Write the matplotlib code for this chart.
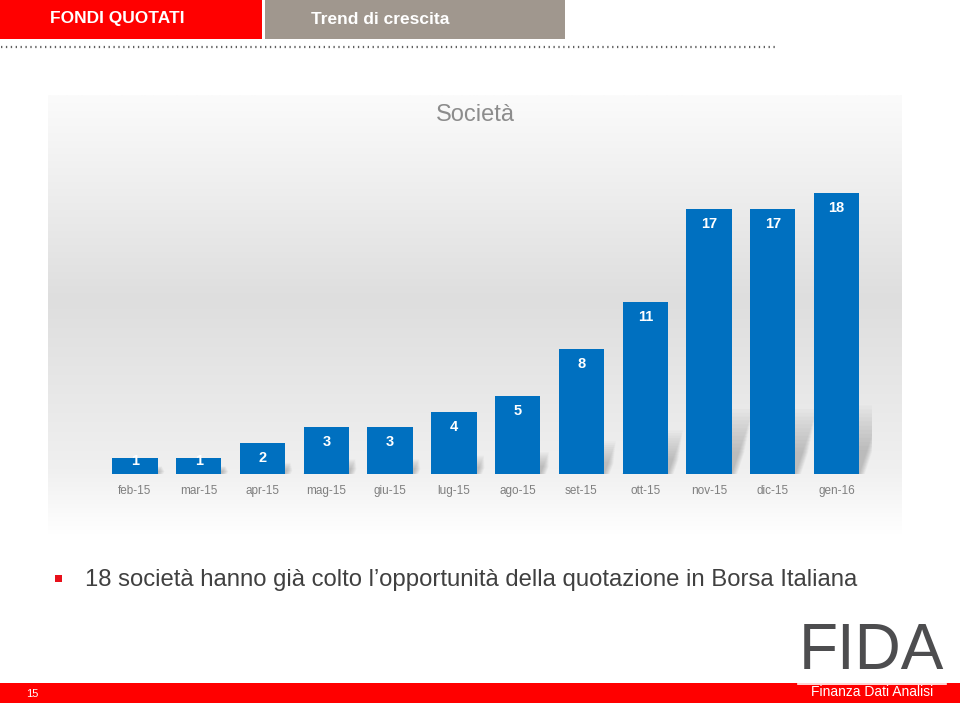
import matplotlib
matplotlib.use("Agg")
import matplotlib.pyplot as plt
import numpy as np
from matplotlib.patches import Rectangle, Polygon

plt.rcParams['font.family'] = ['Liberation Sans', 'DejaVu Sans']

# ---- data ----
months = ["feb-15", "mar-15", "apr-15", "mag-15", "giu-15", "lug-15",
          "ago-15", "set-15", "ott-15", "nov-15", "dic-15", "gen-16"]
companies = [1, 1, 2, 3, 3, 4, 5, 8, 11, 17, 17, 18]
chart_title = "Società"
header_left = "FONDI QUOTATI"
header_right = "Trend di crescita"
bullet_text = "18 società hanno già colto l\u2019opportunità della quotazione in Borsa Italiana"
page_number = "15"

W, H = 960, 707
fig = plt.figure(figsize=(W / 100, H / 100), dpi=100)
fig.patch.set_facecolor("white")

# background overlay axes in pixel coordinates (decorations)
bg = fig.add_axes([0, 0, 1, 1])
bg.axis("off")

# header boxes
bg.add_patch(Rectangle((0, 0), 262, 39, color="#FF0000", lw=0))
bg.add_patch(Rectangle((265, 0), 300, 39, color="#A0978E", lw=0))
bg.text(117, 19, header_left, color="white", fontsize=12.5, fontweight="bold",
        ha="center", va="center", family=['Liberation Sans Narrow', 'Liberation Sans'])
bg.text(311, 19, header_right, color="white", fontsize=12.5, fontweight="bold",
        ha="left", va="center", family=['Liberation Sans Narrow', 'Liberation Sans'])
bg.plot([1, 778], [46.5, 46.5], color="#606060", lw=1.6, linestyle=(0, (0.6, 1.6)),
        solid_capstyle="butt")

# chart panel gradient
ys = np.array([95, 140, 300, 470, 535])
cs = np.array([0xfb, 0xf5, 0xde, 0xf0, 0xff]) / 255.0
yy = np.linspace(95, 535, 300)
vals = np.interp(yy, ys, cs)
grad = np.repeat(vals[:, None], 2, axis=1)
rgb = np.dstack([grad, grad, grad])
bg.imshow(rgb, extent=[48, 902, 535, 95], aspect="auto", interpolation="bilinear", zorder=0)

# bullet
bg.add_patch(Rectangle((55, 575), 7, 7, color="#E8101A", lw=0))
bg.text(85, 580, bullet_text, color="#404040", fontsize=17.2, ha="left", va="center")

# footer
bg.add_patch(Rectangle((0, 683), W, 20, color="#FF0000", lw=0))
bg.text(32, 694, page_number, color="white", fontsize=8, ha="center", va="center")
bg.text(871, 652, "FIDA", color="#4D4D4F", fontsize=46, ha="center", va="center")
bg.plot([798, 946], [683.5, 683.5], color="white", lw=1.2)
bg.text(872, 692.5, "Finanza Dati Analisi", color="white", fontsize=10, ha="center", va="center")

bg.set_xlim(0, W)
bg.set_ylim(H, 0)

# ---- bar chart ----
x = np.arange(len(months))
base_px, top_px = 474, 193
left_px, right_px = 99.9, 871.7
ax = fig.add_axes([left_px / W, (H - base_px) / H, (right_px - left_px) / W,
                   (base_px - top_px) / H])
ax.patch.set_alpha(0)
xmin, xmax = -0.55, 11.55
ax.set_xlim(xmin, xmax)
ax.set_ylim(0, max(companies))
bw = 0.71
bars = ax.bar(x, companies, width=bw, color="#0070C0", zorder=3)
for s in ax.spines.values():
    s.set_visible(False)
ax.set_yticks([])
ax.set_xticks(x)
ax.set_xticklabels(months, color="#7F7F7F", fontsize=8.5)
ax.tick_params(axis="x", length=0, pad=8)

px_per_unit = (base_px - top_px) / max(companies)
px_per_xunit = (right_px - left_px) / (xmax - xmin)

# soft cast shadows (decorative), derived from bar heights
for xi, v in zip(x, companies):
    h_px = v * px_per_unit
    dy_px = 0.23 * h_px + 4
    dx_px = 0.3 * dy_px + 2
    xr = xi + bw / 2
    xl = xi - bw / 2
    n = 12
    for k in range(n):
        f = 0.35 + 0.65 * k / (n - 1)          # fraction of full shadow height
        g = (n - 1 - k) * 0.5 / px_per_xunit    # sideways spread for blur
        dy = dy_px * f / px_per_unit
        dx = dx_px * f / px_per_xunit
        poly = Polygon([(xl, 0), (xr + g, 0), (xr + dx + g, dy), (xl + dx, dy)],
                       closed=True, facecolor="#6a6a6a", alpha=0.035, lw=0, zorder=2)
        ax.add_patch(poly)

for xi, v in zip(x, companies):
    off_px = min(15, v * px_per_unit - 13)
    ax.annotate(str(v), (xi, v), xytext=(0, -off_px * 0.72), textcoords="offset points",
                ha="center", va="center", color="white", fontsize=10.5, fontweight="bold",
                zorder=4)

fig.text(475 / W, 1 - 115 / H, chart_title, ha="center", va="center",
         fontsize=17, color="#8C8C8C")

fig.savefig("out.png", dpi=100, facecolor="white")
